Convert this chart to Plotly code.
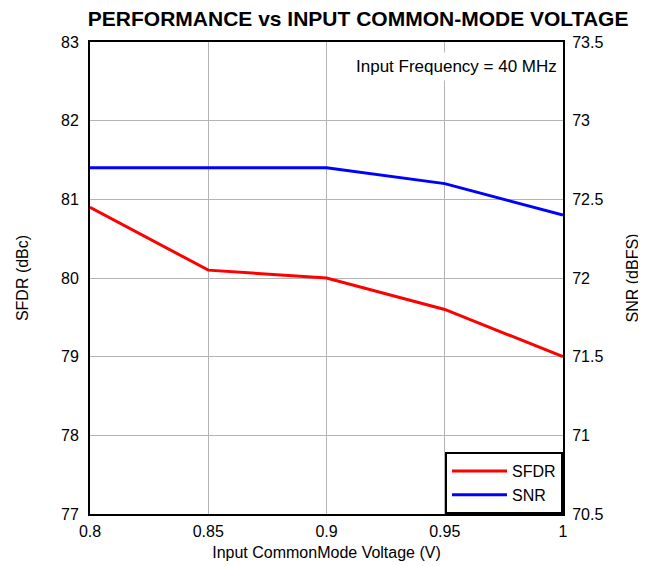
import plotly.graph_objects as go

voltage = [0.8, 0.85, 0.9, 0.95, 1.0]
sfdr_dbc = [80.9, 80.1, 80.0, 79.6, 79.0]
snr_dbfs = [72.7, 72.7, 72.7, 72.6, 72.4]

FONT = "Liberation Sans, Arial, sans-serif"

fig = go.Figure()
fig.add_trace(go.Scatter(x=voltage, y=sfdr_dbc, mode="lines", name="SFDR",
                         line={"color": "#ff0000", "width": 3}))
fig.add_trace(go.Scatter(x=voltage, y=snr_dbfs, mode="lines", name="SNR", yaxis="y2",
                         line={"color": "#0000ff", "width": 3}))

axis_common = dict(
    showline=True, linecolor="black", linewidth=2,
    showgrid=True, gridcolor="#b4b4b4", gridwidth=1,
    ticks="", zeroline=False,
    tickfont={"size": 16, "color": "black", "family": FONT},
    title_font={"size": 16, "color": "black", "family": FONT},
)

fig.update_layout(
    width=646, height=566,
    margin={"l": 82, "r": 91, "t": 34, "b": 60},
    paper_bgcolor="white", plot_bgcolor="white",
    font={"family": FONT, "color": "black"},
    title={"text": "<b>PERFORMANCE vs INPUT COMMON-MODE VOLTAGE</b>",
           "xref": "container", "x": 0.542, "xanchor": "center",
           "yref": "container", "y": 0.982, "yanchor": "middle",
           "font": {"size": 21, "family": FONT, "color": "black"}},
    xaxis=dict(axis_common, range=[0.8, 1.0], dtick=0.05, mirror=True,
               ticklabelstandoff=2,
               title={"text": "Input CommonMode Voltage (V)", "standoff": 8}),
    yaxis=dict(axis_common, range=[77, 83], dtick=1, ticklabelstandoff=6,
               title={"text": "SFDR (dBc)", "standoff": 28}),
    yaxis2=dict(axis_common, range=[70.5, 73.5], dtick=0.5, overlaying="y", side="right",
                showgrid=False, ticklabelstandoff=4,
                title={"text": "SNR (dBFS)", "standoff": 24}),
    legend={"x": 1.0, "y": 0.0, "xanchor": "right", "yanchor": "bottom",
            "bgcolor": "white", "bordercolor": "black", "borderwidth": 2,
            "font": {"size": 16, "family": FONT, "color": "black"},
            "itemwidth": 55, "tracegroupgap": 0},
    showlegend=True,
)

fig.add_annotation(text="Input Frequency = 40 MHz", xref="paper", yref="paper",
                   x=0.997, y=0.979, xanchor="right", yanchor="top", showarrow=False,
                   bgcolor="white", borderpad=4,
                   font={"size": 17, "family": FONT, "color": "black"})

fig.write_html("out.html")
